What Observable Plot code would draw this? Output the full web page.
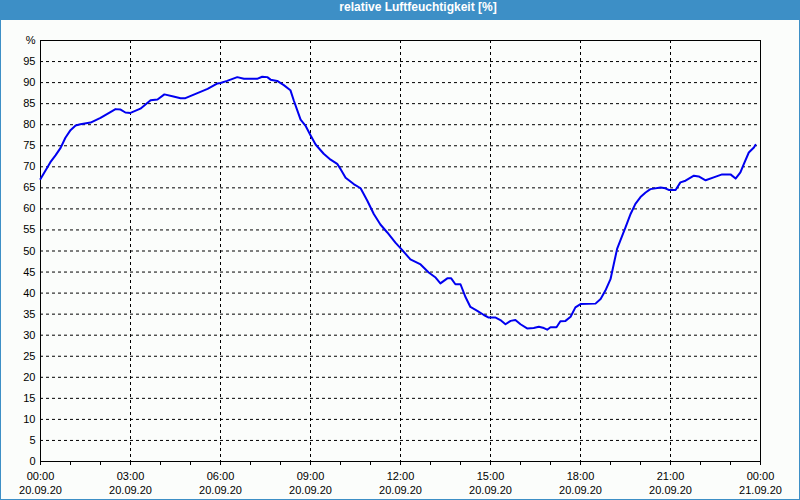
<!DOCTYPE html>
<html>
<head>
<meta charset="utf-8">
<script src="https://cdn.jsdelivr.net/npm/d3@7"></script>
<script src="https://cdn.jsdelivr.net/npm/@observablehq/plot@0.6"></script>
<style>
  html, body { margin: 0; padding: 0; background: #fbfdfb; }
  #wrap { position: relative; width: 800px; height: 500px; overflow: hidden; background: #fbfdfb; }
  #title { height: 20px; line-height: 20px; background: #3d8fc6; color: #fff;
           font: bold 12px "Liberation Sans", Arial, sans-serif; text-align: center; padding-left: 36px; box-sizing: border-box; }
  #border { position: absolute; left: 0; top: 0; width: 800px; height: 500px; box-sizing: border-box;
            border: 1px solid #3d8fc6; border-top: none; pointer-events: none; }
  svg { display: block; }
</style>
</head>
<body>
<div id="wrap">
  <div id="title">relative Luftfeuchtigkeit [%]</div>
  <div id="chart"></div>
  <div id="border"></div>
</div>
<script>
// Time in hours since 20.09.20 00:00
const hours = [0.00,0.33,0.50,0.67,0.83,1.00,1.17,1.33,1.67,2.00,2.33,2.50,2.67,2.83,3.00,3.33,3.67,3.90,4.13,4.43,4.67,4.83,5.23,5.57,5.90,6.00,6.22,6.56,6.78,7.22,7.39,7.56,7.67,7.89,8.11,8.33,8.44,8.56,8.67,8.83,9.00,9.17,9.44,9.67,9.89,10.00,10.17,10.44,10.67,10.89,11.11,11.33,11.56,11.83,12.06,12.33,12.67,12.94,13.17,13.33,13.56,13.69,13.83,14.00,14.17,14.33,14.56,14.78,14.94,15.17,15.33,15.50,15.67,15.83,16.00,16.22,16.44,16.61,16.78,16.89,17.00,17.20,17.33,17.50,17.67,17.83,18.00,18.50,18.67,18.83,19.00,19.11,19.22,19.33,19.50,19.67,19.83,20.00,20.17,20.33,20.67,20.83,20.94,21.17,21.33,21.50,21.78,21.94,22.17,22.44,22.72,23.00,23.17,23.33,23.44,23.61,23.78,23.83];
const humidity = [67.1,71.1,72.7,74.5,76.9,78.7,79.8,80.1,80.5,81.6,83.0,83.7,83.6,82.9,82.8,83.8,85.8,86.0,87.2,86.7,86.3,86.3,87.5,88.5,89.8,89.9,90.4,91.3,90.9,90.9,91.4,91.3,90.7,90.4,89.4,88.2,85.8,83.4,81.2,79.8,77.5,75.3,73.1,71.7,70.7,69.5,67.4,65.9,64.9,62.0,58.8,56.3,54.4,52.0,50.2,48.0,46.8,44.9,43.7,42.3,43.5,43.5,42.1,42.1,39.0,36.7,35.8,34.8,34.2,34.2,33.6,32.6,33.4,33.6,32.6,31.6,31.7,32.0,31.7,31.3,31.9,31.9,33.3,33.4,34.4,36.6,37.4,37.5,38.6,40.6,43.3,46.9,50.5,52.5,55.6,58.8,61.2,62.8,63.9,64.7,65.1,64.9,64.5,64.5,66.3,66.7,67.9,67.7,66.8,67.5,68.2,68.2,67.2,68.7,70.6,73.4,74.6,75.2];

const xTickHours = [0, 3, 6, 9, 12, 15, 18, 21, 24];
const xTickLabels = ["00:00\n20.09.20","03:00\n20.09.20","06:00\n20.09.20","09:00\n20.09.20","12:00\n20.09.20","15:00\n20.09.20","18:00\n20.09.20","21:00\n20.09.20","00:00\n21.09.20"];
const yTicks = [0,5,10,15,20,25,30,35,40,45,50,55,60,65,70,75,80,85,90,95,100];
const yUnitLabel = "%";

const data = hours.map((h, i) => ({h, v: humidity[i]}));
const labelMap = new Map(xTickHours.map((h, i) => [h, xTickLabels[i]]));

const chart = Plot.plot({
  width: 800,
  height: 480,
  marginTop: 20,
  marginBottom: 39,
  marginLeft: 40,
  marginRight: 40,
  style: {fontFamily: "'Liberation Sans', Arial, sans-serif", fontSize: "11px", color: "black", background: "transparent", overflow: "visible"},
  x: {domain: [0, 24]},
  y: {domain: [0, 100]},
  marks: [
    Plot.gridY(yTicks.filter(d => d > 0 && d < 100), {stroke: "black", strokeOpacity: 1, strokeDasharray: "3,3"}),
    Plot.gridX(xTickHours.filter(d => d > 0 && d < 24), {stroke: "black", strokeOpacity: 1, strokeDasharray: "3,3"}),
    Plot.axisY(yTicks, {tickSize: 0, tickPadding: 5, tickFormat: d => d === 100 ? yUnitLabel : String(d), label: null}),
    Plot.axisX(d3.range(0, 25), {tickSize: 4, tickPadding: 4, tickFormat: d => labelMap.get(d) ?? "", label: null, lineHeight: 1.3}),
    Plot.frame({stroke: "black"}),
    Plot.line(data, {x: "h", y: "v", stroke: "#0000f0", strokeWidth: 2})
  ]
});
document.getElementById("chart").appendChild(chart);
</script>
</body>
</html>
